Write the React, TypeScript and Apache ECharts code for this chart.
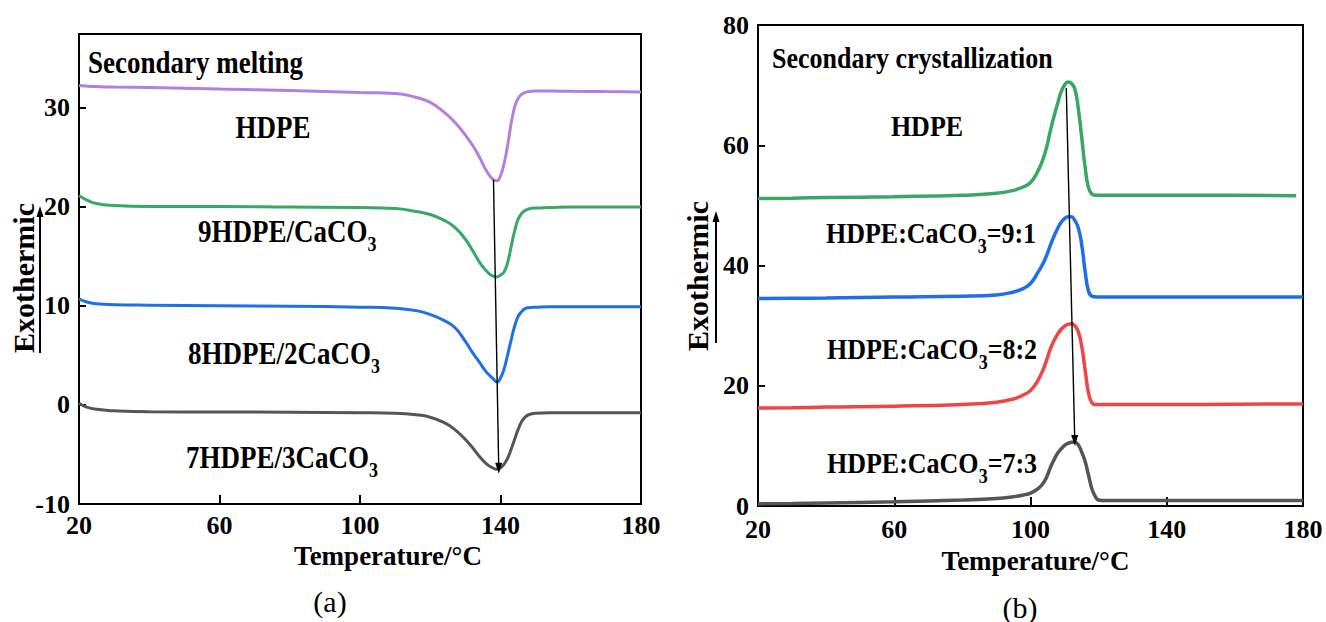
import React, { useEffect, useRef } from "react";
import * as echarts from "echarts";

// ---------- data ----------
const meltTemps = [20, 22, 25, 30, 40, 60, 80, 100, 110, 116, 120, 124, 127, 130, 132, 134, 136, 138, 139, 140, 141, 142, 143, 144, 145, 146, 147, 148, 150, 154, 160, 170, 180];
const meltHDPE = [32.2, 32.15, 32.1, 32.05, 32.0, 31.85, 31.7, 31.5, 31.4, 31.0, 30.5, 29.5, 28.5, 27.2, 26.2, 25.0, 23.6, 22.7, 22.6, 23.1, 24.3, 26.1, 28.3, 30.0, 30.9, 31.3, 31.5, 31.6, 31.65, 31.65, 31.62, 31.6, 31.55];
const melt9 = [21.1, 20.7, 20.3, 20.1, 20.0, 20.0, 19.95, 19.9, 19.8, 19.5, 19.2, 18.6, 17.9, 16.7, 15.6, 14.4, 13.5, 12.95, 12.9, 13.1, 13.4, 14.3, 15.9, 17.5, 18.7, 19.3, 19.6, 19.75, 19.85, 19.9, 19.95, 19.95, 19.95];
const melt8 = [10.7, 10.4, 10.2, 10.1, 10.05, 10.0, 9.95, 9.85, 9.75, 9.5, 9.1, 8.5, 7.8, 6.4, 5.3, 4.3, 3.3, 2.6, 2.3, 2.7, 3.6, 5.0, 6.5, 7.9, 8.9, 9.4, 9.7, 9.8, 9.85, 9.9, 9.9, 9.9, 9.9];
const melt7 = [0.15, -0.2, -0.45, -0.6, -0.7, -0.72, -0.75, -0.8, -0.85, -1.0, -1.25, -1.8, -2.5, -3.5, -4.3, -5.2, -5.95, -6.4, -6.5, -6.35, -6.0, -5.4, -4.5, -3.5, -2.5, -1.7, -1.25, -1.0, -0.85, -0.8, -0.8, -0.8, -0.8];
const meltArrow = [[138.0, 22.7], [139.5, -6.4]];

const crysTemps = [20, 30, 40, 60, 80, 90, 95, 98, 100, 102, 104, 106, 107, 108, 109, 110, 111, 112, 113, 114, 115, 116, 117, 118, 119, 120, 122, 130, 150, 170, 180];
const crysTempsHDPE = [20, 30, 40, 60, 80, 90, 95, 98, 100, 102, 104, 106, 107, 108, 109, 110, 111, 112, 113, 114, 115, 116, 117, 118, 119, 120, 122, 130, 150, 170, 178];
const crysHDPE = [51.15, 51.2, 51.3, 51.45, 51.7, 52.0, 52.5, 53.1, 53.8, 55.5, 58.2, 62.8, 65.0, 67.0, 68.9, 70.0, 70.5, 70.3, 69.4, 66.2, 61.5, 56.5, 53.0, 51.9, 51.7, 51.7, 51.7, 51.7, 51.7, 51.65, 51.6];
const crys91 = [34.5, 34.55, 34.6, 34.75, 34.9, 35.1, 35.6, 36.2, 37.0, 38.7, 40.7, 43.6, 45.0, 46.2, 47.2, 47.8, 48.1, 48.1, 47.5, 46.3, 43.6, 39.2, 35.8, 34.9, 34.8, 34.75, 34.75, 34.75, 34.75, 34.75, 34.75];
const crys82 = [16.3, 16.35, 16.45, 16.6, 16.9, 17.25, 17.8, 18.5, 19.2, 20.7, 23.1, 26.4, 27.6, 28.6, 29.4, 29.9, 30.2, 30.3, 30.0, 29.0, 26.7, 22.8, 18.9, 17.2, 16.9, 16.9, 16.9, 16.9, 16.9, 16.95, 16.95];
const crys73 = [0.35, 0.4, 0.5, 0.7, 1.0, 1.25, 1.55, 1.85, 2.15, 2.8, 4.0, 6.6, 7.8, 8.8, 9.5, 10.1, 10.4, 10.6, 10.6, 10.2, 9.0, 7.5, 5.2, 2.9, 1.6, 1.0, 0.9, 0.9, 0.9, 0.9, 0.9];
const crysArrow = [[110.5, 69.5], [113.0, 10.9]];

const xTicks = { min: 20, max: 180, interval: 40 };
const meltY = { min: -10, max: 37.4, interval: 10 };
const crysY = { min: 0, max: 80, interval: 20 };

const meltLabels = ["HDPE", "9HDPE/CaCO{s|3}", "8HDPE/2CaCO{s|3}", "7HDPE/3CaCO{s|3}"];
const crysLabels = ["HDPE", "HDPE:CaCO{s|3}=9:1", "HDPE:CaCO{s|3}=8:2", "HDPE:CaCO{s|3}=7:3"];

const COLORS = {
  purple: "#b47fe0",
  green: "#38a862",
  blue: "#1f6fe6",
  grey: "#555555",
  red: "#f04545",
};

const FONT = "Liberation Serif";

function zip(xs: number[], ys: number[]) {
  return xs.map((x, i) => [x, ys[i]]);
}

export default function App() {
  const ref = useRef<HTMLDivElement>(null);

  useEffect(() => {
    document.body.style.margin = "0";
    if (!ref.current) return;
    const chart = echarts.init(ref.current, undefined, { renderer: "svg" });

    const labelStyle = {
      fontFamily: FONT,
      fontWeight: "bold" as const,
      fontSize: 26,
      color: "#000",
    };

    const axisCommon = {
      axisLine: { show: true, onZero: false, lineStyle: { color: "#000", width: 2 } },
      axisTick: { show: true, inside: true, length: 7, lineStyle: { color: "#000", width: 2 } },
      splitLine: { show: false },
    };

    const lineSeries = (
      name: string,
      data: number[][],
      color: string,
      gi: number,
      width: number,
      arrow?: number[][]
    ) => {
      const s: any = {
        name,
        type: "line",
        xAxisIndex: gi,
        yAxisIndex: gi,
        data,
        showSymbol: false,
        symbol: "none",
        smooth: 0.5,
        lineStyle: { color, width },
        z: 3,
      };
      if (arrow) {
        s.markLine = {
          silent: true,
          symbol: ["none", "triangle"],
          symbolSize: [7, 11],
          label: { show: false },
          lineStyle: { color: "#000", width: 1.4, type: "solid" },
          data: [[{ coord: arrow[0] }, { coord: arrow[1] }]],
          z: 5,
        };
      }
      return s;
    };

    const rich = {
      s: {
        fontFamily: FONT,
        fontWeight: "bold",
        fontSize: 18,
        verticalAlign: "bottom",
        lineHeight: 40,
        fill: "#000",
      },
    };

    const txt = (text: string, x: number, y: number, align: string, size = 26, weight = "bold", sy = 1.15) => ({
      type: "text",
      x,
      y,
      scaleY: sy,
      silent: true,
      style: {
        text,
        fontFamily: FONT,
        fontWeight: weight,
        fontSize: size,
        fill: "#000",
        textAlign: align,
        verticalAlign: "middle",
        rich,
      },
    });

    const vtxt = (text: string, x: number, y: number) => ({
      type: "text",
      x,
      y,
      rotation: Math.PI / 2,
      silent: true,
      style: {
        text,
        fontFamily: FONT,
        fontWeight: "bold",
        fontSize: 30,
        fill: "#000",
        textAlign: "center",
        verticalAlign: "middle",
      },
    });

    const vArrow = (x: number, yTop: number, yBottom: number) => [
      {
        type: "line",
        silent: true,
        shape: { x1: x, y1: yBottom, x2: x, y2: yTop + 8 },
        style: { stroke: "#000", lineWidth: 2 },
      },
      {
        type: "polygon",
        silent: true,
        shape: { points: [[x, yTop], [x - 3.5, yTop + 11], [x + 3.5, yTop + 11]] },
        style: { fill: "#000" },
      },
    ];

    chart.setOption({
      animation: false,
      backgroundColor: "#fff",
      textStyle: { fontFamily: FONT },
      grid: [
        { left: 79, top: 34, width: 562, height: 470, show: true, borderColor: "#000", borderWidth: 2, backgroundColor: "transparent" },
        { left: 758, top: 25, width: 545, height: 481, show: true, borderColor: "#000", borderWidth: 2, backgroundColor: "transparent" },
      ],
      xAxis: [
        {
          type: "value",
          gridIndex: 0,
          ...xTicks,
          ...axisCommon,
          axisTick: { show: true, inside: true, length: 9, lineStyle: { color: "#000", width: 2 } },
          axisLabel: { ...labelStyle, margin: 8 },
          name: "Temperature/°C",
          nameLocation: "middle",
          nameGap: 34,
          nameTextStyle: { ...labelStyle, fontSize: 27, padding: [0, 0, 0, 56], verticalAlign: "top" },
        },
        {
          type: "value",
          gridIndex: 1,
          ...xTicks,
          ...axisCommon,
          axisTick: { show: true, inside: true, length: 9, lineStyle: { color: "#000", width: 2 } },
          axisLabel: { ...labelStyle, margin: 10 },
          name: "Temperature/°C",
          nameLocation: "middle",
          nameGap: 41,
          nameTextStyle: { ...labelStyle, fontSize: 27, padding: [0, 0, 0, 10], verticalAlign: "top" },
        },
      ],
      yAxis: [
        {
          type: "value",
          gridIndex: 0,
          ...meltY,
          ...axisCommon,
          axisLabel: { ...labelStyle, margin: 9, showMaxLabel: false },
        },
        {
          type: "value",
          gridIndex: 1,
          ...crysY,
          ...axisCommon,
          axisLabel: { ...labelStyle, margin: 9 },
        },
      ],
      series: [
        lineSeries("HDPE", zip(meltTemps, meltHDPE), COLORS.purple, 0, 3, meltArrow),
        lineSeries("9HDPE/CaCO3", zip(meltTemps, melt9), COLORS.green, 0, 3),
        lineSeries("8HDPE/2CaCO3", zip(meltTemps, melt8), COLORS.blue, 0, 3),
        lineSeries("7HDPE/3CaCO3", zip(meltTemps, melt7), COLORS.grey, 0, 3),
        lineSeries("HDPE ", zip(crysTempsHDPE, crysHDPE), COLORS.green, 1, 3.5, crysArrow),
        lineSeries("HDPE:CaCO3=9:1", zip(crysTemps, crys91), COLORS.blue, 1, 3.5),
        lineSeries("HDPE:CaCO3=8:2", zip(crysTemps, crys82), COLORS.red, 1, 3.5),
        lineSeries("HDPE:CaCO3=7:3", zip(crysTemps, crys73), COLORS.grey, 1, 3.5),
      ],
      graphic: [
        txt("Secondary melting", 88, 62, "left", 27),
        txt(meltLabels[0], 273, 127, "center", 27),
        txt(meltLabels[1], 198, 231, "left", 27),
        txt(meltLabels[2], 188, 353, "left", 27),
        txt(meltLabels[3], 186, 457, "left", 27),
        txt("Secondary crystallization", 772, 58, "left", 26),
        txt(crysLabels[0], 927, 126, "center", 26),
        txt(crysLabels[1], 826, 233, "left", 26),
        txt(crysLabels[2], 827, 349, "left", 26),
        txt(crysLabels[3], 827, 463, "left", 26),
        txt("(a)", 330, 601, "center", 30, "normal", 1),
        txt("(b)", 1020, 607, "center", 30, "normal", 1),
        vtxt("Exothermic", 23, 278),
        ...vArrow(40, 206, 353),
        vtxt("Exothermic", 697, 276),
        ...vArrow(716, 211, 343),
      ],
    });

    return () => {
      chart.dispose();
    };
  }, []);

  return <div ref={ref} style={{ width: 1326, height: 622 }} />;
}
